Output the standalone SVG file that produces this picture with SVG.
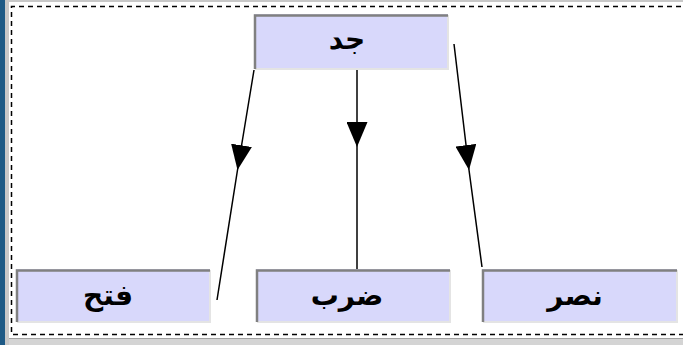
<svg xmlns="http://www.w3.org/2000/svg" width="683" height="345" viewBox="0 0 683 345">
<defs>
<style>
.frame{fill:none;stroke:#000;stroke-width:1.5;stroke-dasharray:5,4}
.nbox{fill:#d8d8fb}
.hi{fill:none;stroke:#e4e4e4;stroke-width:2}
.sh{fill:none;stroke:#808080;stroke-width:2.5}
.lbl{font-family:"DejaVu Sans",sans-serif;font-size:28px;font-weight:bold;fill:#000;text-anchor:middle}
.edge{fill:none;stroke:#000;stroke-width:1.5;marker-mid:url(#arr)}
</style>
<marker id="arr" markerUnits="userSpaceOnUse" markerWidth="25" markerHeight="21" viewBox="0 0 25 21" refX="25" refY="10.5" orient="auto">
<path d="M0,0 L25,10.5 L0,21 Z" fill="#000"/>
</marker>
</defs>
<rect x="0" y="0" width="683" height="345" fill="#fff"/>
<rect x="0" y="0" width="683" height="2" fill="#c8c8c8"/>
<rect x="0" y="338" width="683" height="7" fill="#d4d4d4"/>
<rect x="0" y="338" width="683" height="1" fill="#a0a0a0"/>
<rect x="5" y="0" width="4" height="345" fill="#c8c8c8"/>
<rect x="0" y="0" width="5" height="345" fill="#1e5a86"/>
<path class="frame" d="M690,6.5 H11.5 V334.5 H690"/>
<g id="connectors">
<path id="e1" class="edge" d="M254,70 L237.5,170 L217,300"/>
<path id="e2" class="edge" d="M357,70 L357,147 L357,269"/>
<path id="e3" class="edge" d="M454,44 L469,170 L482,267"/>
</g>
<g id="n-jad">
<rect class="nbox" x="254" y="14" width="194" height="55"/>
<path class="hi" d="M448,15 V69 H255"/>
<path class="sh" d="M255,69 V15.5 H448"/>
<text class="lbl" x="347" y="49">جد</text>
</g>
<g id="n-fatah">
<rect class="nbox" x="16" y="269" width="194" height="53"/>
<path class="hi" d="M210,270 V322 H17"/>
<path class="sh" d="M17,322 V270.5 H210"/>
<text class="lbl" x="108" y="305">فتح</text>
</g>
<g id="n-darb">
<rect class="nbox" x="256" y="269" width="194" height="53"/>
<path class="hi" d="M450,270 V322 H257"/>
<path class="sh" d="M257,322 V270.5 H450"/>
<text class="lbl" x="347" y="305">ضرب</text>
</g>
<g id="n-nasr">
<rect class="nbox" x="482" y="269" width="195" height="53"/>
<path class="hi" d="M677,270 V322 H483"/>
<path class="sh" d="M483,322 V270.5 H677"/>
<text class="lbl" x="575" y="305">نصر</text>
</g>
</svg>
